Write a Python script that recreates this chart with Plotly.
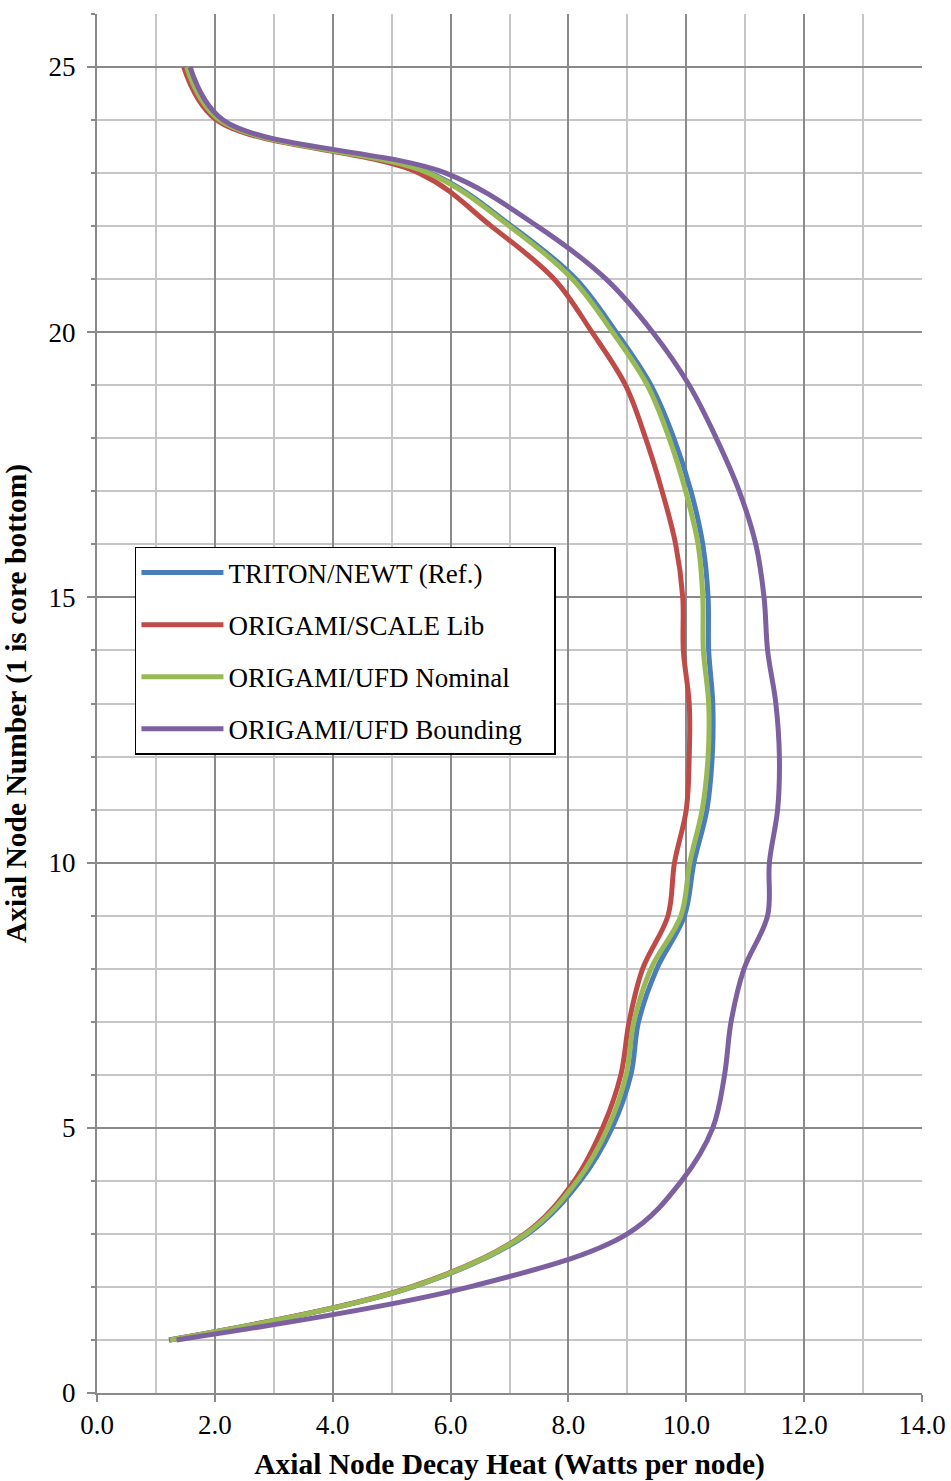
import plotly.graph_objects as go

nodes = list(range(1, 26))

triton_newt = [1.22, 5.36, 7.31, 8.20, 8.74, 9.06, 9.19, 9.50, 9.97, 10.13,
               10.35, 10.44, 10.45, 10.38, 10.37, 10.28, 10.08, 9.79, 9.40, 8.81,
               8.13, 7.04, 5.66, 2.08, 1.52]
origami_scale = [1.23, 5.33, 7.26, 8.10, 8.58, 8.89, 9.03, 9.26, 9.69, 9.80,
                 10.00, 10.05, 10.05, 9.95, 9.94, 9.82, 9.59, 9.31, 8.97, 8.40,
                 7.76, 6.69, 5.47, 2.03, 1.47]
origami_ufd_nom = [1.24, 5.35, 7.28, 8.15, 8.67, 8.98, 9.11, 9.40, 9.91, 10.06,
                   10.27, 10.37, 10.38, 10.29, 10.28, 10.20, 9.99, 9.71, 9.34, 8.75,
                   8.07, 7.00, 5.63, 2.08, 1.52]
origami_ufd_bound = [1.35, 6.32, 9.00, 9.92, 10.45, 10.65, 10.76, 10.98, 11.38, 11.41,
                     11.55, 11.58, 11.52, 11.38, 11.32, 11.18, 10.90, 10.51, 10.05, 9.43,
                     8.64, 7.47, 5.92, 2.14, 1.58]

series_names = ["TRITON/NEWT (Ref.)", "ORIGAMI/SCALE Lib",
                "ORIGAMI/UFD Nominal", "ORIGAMI/UFD Bounding"]
series_values = [triton_newt, origami_scale, origami_ufd_nom, origami_ufd_bound]
series_colors = ["#4a7ebb", "#be4b48", "#98b954", "#7d60a0"]

x_ticks = [0, 2, 4, 6, 8, 10, 12, 14]
x_tick_labels = ["0.0", "2.0", "4.0", "6.0", "8.0", "10.0", "12.0", "14.0"]
y_ticks = [0, 5, 10, 15, 20, 25]

FONT = "Liberation Serif"
PAD = "\u00a0" * 4

fig = go.Figure()
for i, (name, vals, col) in enumerate(zip(series_names, series_values, series_colors)):
    fig.add_trace(go.Scatter(
        x=vals, y=nodes, name=name + PAD, mode="lines",
        line=dict(color=col, width=5, shape="spline", smoothing=1.0),
        legendgroup=f"g{i}",
    ))

major_grid = "#8a8a8a"
minor_grid = "#c6c6c6"

fig.update_layout(
    width=951, height=1481,
    margin=dict(l=97, r=29, t=14, b=88),
    paper_bgcolor="white", plot_bgcolor="white",
    font=dict(family=FONT, color="black", size=27),
    showlegend=True,
    legend=dict(
        x=0.046, y=0.6135, xanchor="left", yanchor="top",
        bgcolor="white", bordercolor="black", borderwidth=1.5,
        font=dict(family=FONT, size=27, color="black"),
        tracegroupgap=14,
        itemwidth=82,
    ),
    xaxis=dict(
        range=[0, 14], tickvals=x_ticks, ticktext=x_tick_labels,
        showgrid=True, gridcolor=major_grid, gridwidth=2,
        showline=True, linecolor=major_grid, linewidth=2,
        ticks="outside", ticklen=7, tickcolor=major_grid, tickwidth=2,
        tickfont=dict(family=FONT, size=27),
        zeroline=False, automargin=False,
        minor=dict(dtick=1, showgrid=True, gridcolor=minor_grid, gridwidth=2),
        title=dict(text="<b>Axial Node Decay Heat (Watts per node)</b>",
                   font=dict(family=FONT, size=29.5), standoff=14),
    ),
    yaxis=dict(
        range=[0, 26], tickvals=y_ticks,
        showgrid=True, gridcolor=major_grid, gridwidth=2,
        showline=True, linecolor=major_grid, linewidth=2,
        ticks="outside", ticklen=8, tickcolor=major_grid, tickwidth=2,
        ticklabelstandoff=6,
        tickfont=dict(family=FONT, size=27),
        zeroline=False, automargin=False,
        minor=dict(dtick=1, showgrid=True, gridcolor=minor_grid, gridwidth=2,
                   ticks="outside", ticklen=4, tickcolor=major_grid),
        title=dict(text="<b>Axial Node Number (1 is core bottom)</b>",
                   font=dict(family=FONT, size=29.5), standoff=18),
    ),
)

fig.write_html(
    "out.html",
    config={"displayModeBar": False},
    post_script="document.body.style.margin='0';document.body.style.overflow='hidden';",
)
